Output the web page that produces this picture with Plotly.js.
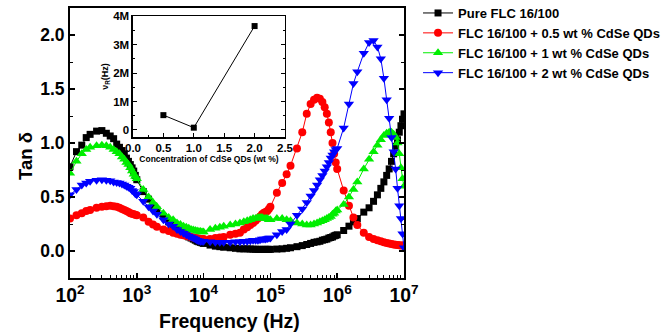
<!DOCTYPE html>
<html>
<head>
<meta charset="utf-8">
<script src="https://cdn.plot.ly/plotly-3.0.1.min.js"></script>
<style>
html,body{margin:0;padding:0;background:#fff;}
#chart{width:661px;height:335px;}
</style>
</head>
<body>
<div id="chart"></div>
<script>
// Frequency (Hz)
const freq = [
 100,125,150,175,200,250,300,350,400,450,500,550,600,650,700,750,800,850,900,950,
 1000,1250,1500,1750,2000,2500,3000,3500,4000,4500,5000,5500,6000,6500,7000,7500,8000,8500,9000,9500,
 1e4,1.25e4,1.5e4,1.75e4,2e4,2.5e4,3e4,3.5e4,4e4,4.5e4,5e4,5.5e4,6e4,6.5e4,7e4,7.5e4,8e4,8.5e4,9e4,9.5e4,
 1e5,1.25e5,1.5e5,1.75e5,2e5,2.5e5,3e5,3.5e5,4e5,4.5e5,5e5,5.5e5,6e5,6.5e5,7e5,7.5e5,8e5,8.5e5,9e5,9.5e5,
 1e6,1.25e6,1.5e6,1.75e6,2e6,2.5e6,3e6,3.5e6,4e6,4.5e6,5e6,5.5e6,6e6,6.5e6,7e6,7.5e6,8e6,8.5e6,9e6,9.5e6,
 1e7
];

// Tan delta, Pure FLC 16/100
const tanPure = [
 0.78,0.92,0.98,1.05,1.08,1.11,1.115,1.09,1.065,1.04,0.99,0.96,0.93,0.90,0.86,0.83,0.80,0.77,0.74,0.70,
 0.66,0.55,0.48,0.42,0.38,0.32,0.27,0.24,0.21,0.18,0.16,0.15,0.13,0.12,0.11,0.10,0.09,0.085,0.08,0.075,
 0.07,0.055,0.045,0.04,0.035,0.03,0.025,0.02,0.02,0.02,0.018,0.017,0.016,0.015,0.015,0.015,0.015,0.015,0.015,0.015,
 0.015,0.018,0.02,0.025,0.03,0.04,0.05,0.06,0.07,0.08,0.085,0.09,0.10,0.105,0.11,0.12,0.125,0.13,0.14,0.145,
 0.15,0.19,0.23,0.27,0.30,0.36,0.40,0.46,0.52,0.58,0.64,0.70,0.76,0.83,0.90,0.97,1.03,1.10,1.16,1.22,
 1.27
];

// FLC 16/100 + 0.5 wt % CdSe QDs
const tanQD05 = [
 0.30,0.33,0.35,0.37,0.38,0.40,0.41,0.415,0.42,0.415,0.41,0.40,0.39,0.38,0.37,0.36,0.35,0.345,0.34,0.335,
 0.33,0.31,0.27,0.245,0.225,0.20,0.185,0.17,0.16,0.15,0.145,0.14,0.135,0.13,0.125,0.12,0.118,0.115,0.112,0.11,
 0.11,0.11,0.12,0.125,0.13,0.15,0.16,0.17,0.20,0.22,0.24,0.26,0.28,0.30,0.32,0.34,0.355,0.36,0.37,0.39,
 0.41,0.54,0.63,0.71,0.79,0.95,1.10,1.27,1.36,1.40,1.42,1.41,1.38,1.33,1.27,1.19,1.10,1.00,0.90,0.82,
 0.76,0.56,0.42,0.31,0.24,0.17,0.13,0.11,0.10,0.09,0.08,0.075,0.07,0.065,0.06,0.058,0.056,0.054,0.052,0.05,
 0.05
];

// FLC 16/100 + 1 wt % CdSe QDs
const tanQD1 = [
 0.72,0.83,0.90,0.94,0.96,0.975,0.98,0.975,0.96,0.94,0.92,0.90,0.87,0.85,0.82,0.80,0.77,0.74,0.71,0.69,
 0.67,0.57,0.50,0.45,0.41,0.35,0.31,0.29,0.26,0.245,0.23,0.22,0.21,0.20,0.195,0.19,0.185,0.18,0.18,0.175,
 0.175,0.20,0.21,0.22,0.23,0.24,0.25,0.26,0.27,0.28,0.29,0.30,0.30,0.31,0.31,0.31,0.30,0.30,0.30,0.29,
 0.29,0.30,0.30,0.29,0.28,0.26,0.25,0.24,0.24,0.25,0.26,0.27,0.28,0.29,0.30,0.31,0.32,0.34,0.35,0.37,
 0.38,0.43,0.50,0.57,0.64,0.76,0.85,0.92,0.98,1.03,1.07,1.09,1.10,1.10,1.08,1.05,1.00,0.90,0.77,0.67,
 0.60
];

// FLC 16/100 + 2 wt % CdSe QDs
const tanQD2 = [
 0.52,0.57,0.61,0.63,0.645,0.655,0.66,0.655,0.65,0.64,0.635,0.63,0.62,0.61,0.60,0.59,0.58,0.56,0.55,0.53,
 0.52,0.46,0.41,0.37,0.34,0.29,0.25,0.23,0.20,0.18,0.165,0.15,0.14,0.13,0.12,0.11,0.10,0.095,0.09,0.09,
 0.09,0.085,0.08,0.08,0.08,0.08,0.085,0.085,0.09,0.09,0.095,0.10,0.10,0.10,0.105,0.11,0.11,0.11,0.115,0.12,
 0.12,0.15,0.18,0.20,0.25,0.33,0.39,0.45,0.51,0.56,0.61,0.66,0.70,0.74,0.78,0.82,0.86,0.89,0.92,0.94,
 0.95,1.14,1.36,1.55,1.66,1.83,1.93,1.95,1.89,1.78,1.60,1.40,1.23,1.05,0.92,0.76,0.58,0.42,0.30,0.16,
 0.03
];

// Inset: relaxation frequency vs concentration
const insetConc = [0.5, 1.0, 2.0];
const insetNuR = [0.52e6, 0.08e6, 3.65e6];

const seriesNames = [
 'Pure FLC 16/100',
 'FLC 16/100 + 0.5 wt % CdSe QDs',
 'FLC 16/100 + 1 wt % CdSe QDs',
 'FLC 16/100 + 2 wt % CdSe QDs'
];
const seriesData = [tanPure, tanQD05, tanQD1, tanQD2];
const colors = ['#000000', '#ff0000', '#00ee00', '#0000ff'];
const symbols = ['square', 'circle', 'triangle-up', 'triangle-down'];
const sizes = [7, 8, 9, 9];

const FONT = 'Liberation Sans, Arial, Helvetica, sans-serif';

const traces = seriesData.map((d, i) => ({
  x: freq, y: d, type: 'scatter', mode: 'lines+markers',
  name: seriesNames[i],
  line: {color: colors[i], width: 1},
  marker: {color: colors[i], symbol: symbols[i], size: sizes[i], line: {width: 0}},
  xaxis: 'x', yaxis: 'y'
}));

traces.push({
  x: insetConc, y: insetNuR, type: 'scatter', mode: 'lines+markers',
  showlegend: false,
  line: {color: '#000', width: 1},
  marker: {color: '#000', symbol: 'square', size: 6},
  xaxis: 'x2', yaxis: 'y2'
});

const layout = {
  width: 661, height: 335,
  margin: {l: 70, r: 257, t: 8, b: 57, autoexpand: false},
  paper_bgcolor: '#fff', plot_bgcolor: 'rgba(0,0,0,0)',
  font: {family: FONT, color: '#000', weight: 'bold'},
  showlegend: true,
  legend: {
    x: 1.042, y: 1.037, xanchor: 'left', yanchor: 'top',
    font: {family: FONT, size: 13, color: '#000', weight: 'bold'},
    bgcolor: 'rgba(0,0,0,0)', borderwidth: 0, tracegroupgap: 0
  },
  xaxis: {
    type: 'log', range: [2, 7], dtick: 1,
    exponentformat: 'power', automargin: false,
    showline: true, linewidth: 2, linecolor: '#000', mirror: true,
    ticks: 'inside', ticklen: 5, tickwidth: 1.5, tickcolor: '#000',
    minor: {ticks: 'inside', ticklen: 3, tickwidth: 1, tickcolor: '#000', dtick: 'D1'},
    showgrid: false, zeroline: false,
    tickfont: {family: FONT, size: 15.5, weight: 'bold'},
    domain: [0, 1], anchor: 'y'
  },
  yaxis: {
    range: [-0.25, 2.25], dtick: 0.5, tick0: 0, tickformat: '.1f', automargin: false,
    showline: true, linewidth: 2, linecolor: '#000', mirror: 'ticks',
    ticks: 'inside', ticklen: 5, tickwidth: 1.5, tickcolor: '#000',
    minor: {ticks: 'inside', ticklen: 3, tickwidth: 1, tickcolor: '#000', dtick: 0.25},
    showgrid: false, zeroline: false,
    tickfont: {family: FONT, size: 17.5, weight: 'bold'},
    domain: [0, 1], anchor: 'x'
  },
  xaxis2: {
    range: [0, 2.5], dtick: 0.5, tick0: 0, tickformat: '.1f',
    domain: [0.1886, 0.6437], anchor: 'y2',
    showline: true, linewidth: 1.5, linecolor: '#000', mirror: true,
    ticks: 'inside', ticklen: 4, tickwidth: 1, tickcolor: '#000',
    minor: {ticks: 'inside', ticklen: 2, tickwidth: 1, tickcolor: '#000', dtick: 0.25},
    showgrid: false, zeroline: false,
    tickfont: {family: FONT, size: 11.5, weight: 'bold'},
    title: {text: 'Concentration of CdSe QDs (wt %)', font: {family: FONT, size: 8.5, weight: 'bold'}, standoff: 1}
  },
  yaxis2: {
    range: [-0.25e6, 4e6], dtick: 1e6, tick0: 0, tickformat: '~s',
    domain: [0.522, 0.970], anchor: 'x2',
    showline: true, linewidth: 1.5, linecolor: '#000', mirror: 'ticks',
    ticks: 'inside', ticklen: 4, tickwidth: 1, tickcolor: '#000',
    minor: {ticks: 'inside', ticklen: 2, tickwidth: 1, tickcolor: '#000', dtick: 0.5e6},
    showgrid: false, zeroline: false,
    tickfont: {family: FONT, size: 11.5, weight: 'bold'},
    title: {text: 'ν<sub>R</sub>(Hz)', font: {family: FONT, size: 9, weight: 'bold'}, standoff: 3}
  },
  annotations: [
    {text: 'Frequency (Hz)', xref: 'paper', yref: 'paper',
     x: (229 - 70) / 334, y: (278 - 321) / 270, xanchor: 'center', yanchor: 'middle',
     showarrow: false, font: {family: FONT, size: 19.5, weight: 'bold', color: '#000'}},
    {text: 'Tan δ', xref: 'paper', yref: 'paper', textangle: -90,
     x: (25 - 70) / 334, y: (278 - 156) / 270, xanchor: 'center', yanchor: 'middle',
     showarrow: false, font: {family: FONT, size: 18.5, weight: 'bold', color: '#000'}}
  ]
};

Plotly.newPlot('chart', traces, layout, {staticPlot: true, displayModeBar: false});
</script>
</body>
</html>
